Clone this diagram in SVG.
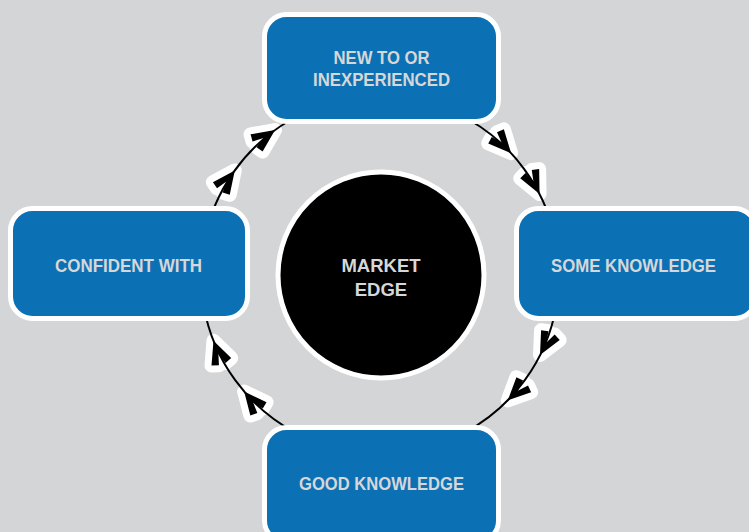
<svg xmlns="http://www.w3.org/2000/svg" width="749" height="532" viewBox="0 0 749 532">
  <defs>
    <style>
      .box { fill: #0c71b4; stroke: #ffffff; stroke-width: 5; }
      .lbl { font-family: "Liberation Sans", Arial, sans-serif; font-weight: bold; font-size: 18.5px; fill: #d6d7d9; text-anchor: middle; }
      .ring { fill: none; stroke: #000000; stroke-width: 2; }
      .halo { fill: #ffffff; stroke: #ffffff; stroke-width: 14; stroke-linejoin: round; }
      .ahc { fill: #000000; }
    </style>
    <path id="chev" d="M1.5,0 L-21,-10.5 L-23.5,-3.5 L-12.5,0 L-23.5,3.5 L-21,10.5 Z"/>
  </defs>
  <rect x="0" y="0" width="749" height="532" fill="#d4d5d7"/>

  <g id="connectors">
    <g class="halo">
      <use href="#chev" transform="translate(510.1,152) rotate(48)"/>
      <use href="#chev" transform="translate(538.9,192.6) rotate(64)"/>
      <use href="#chev" transform="translate(540.7,353.7) rotate(117.5)"/>
      <use href="#chev" transform="translate(508.8,399.4) rotate(135.5)"/>
      <use href="#chev" transform="translate(245.1,392.7) rotate(230.5)"/>
      <use href="#chev" transform="translate(214,342.1) rotate(249.5)"/>
      <use href="#chev" transform="translate(233.9,171.6) rotate(306.8)"/>
      <use href="#chev" transform="translate(273.8,130.9) rotate(325)"/>
    </g>
    <path class="ring" d="M469.5,120 A179,179 0 0 1 554.3,234.7"/>
    <path class="ring" d="M556.3,306.1 A179,179 0 0 1 464,433"/>
    <path class="ring" d="M296,433 A179,179 0 0 1 203.7,306.1"/>
    <path class="ring" d="M203.7,243.9 A179,179 0 0 1 290.5,120"/>
    <g class="ahc">
      <use href="#chev" transform="translate(510.1,152) rotate(48)"/>
      <use href="#chev" transform="translate(538.9,192.6) rotate(64)"/>
      <use href="#chev" transform="translate(540.7,353.7) rotate(117.5)"/>
      <use href="#chev" transform="translate(508.8,399.4) rotate(135.5)"/>
      <use href="#chev" transform="translate(245.1,392.7) rotate(230.5)"/>
      <use href="#chev" transform="translate(214,342.1) rotate(249.5)"/>
      <use href="#chev" transform="translate(233.9,171.6) rotate(306.8)"/>
      <use href="#chev" transform="translate(273.8,130.9) rotate(325)"/>
    </g>
  </g>

  <g id="node-new">
    <rect class="box" x="264.5" y="14.5" width="234" height="107" rx="22"/>
    <text class="lbl" x="381.5" y="64" textLength="96" lengthAdjust="spacingAndGlyphs">NEW TO OR</text>
    <text class="lbl" x="381.5" y="85.5" textLength="137" lengthAdjust="spacingAndGlyphs">INEXPERIENCED</text>
  </g>
  <g id="node-some">
    <rect class="box" x="516.5" y="208.5" width="240" height="110" rx="22"/>
    <text class="lbl" x="633.5" y="272" textLength="165" lengthAdjust="spacingAndGlyphs">SOME KNOWLEDGE</text>
  </g>
  <g id="node-good">
    <rect class="box" x="264.5" y="427.5" width="234" height="115" rx="22"/>
    <text class="lbl" x="381.5" y="489.5" textLength="165" lengthAdjust="spacingAndGlyphs">GOOD KNOWLEDGE</text>
  </g>
  <g id="node-confident">
    <rect class="box" x="10.5" y="208.5" width="237" height="110" rx="22"/>
    <text class="lbl" x="128.5" y="272" textLength="147" lengthAdjust="spacingAndGlyphs">CONFIDENT WITH</text>
  </g>
  <g id="node-market">
    <circle cx="381" cy="275" r="103" fill="#000000" stroke="#ffffff" stroke-width="5"/>
    <text class="lbl" x="381" y="272">MARKET</text>
    <text class="lbl" x="381" y="296">EDGE</text>
  </g>
</svg>
